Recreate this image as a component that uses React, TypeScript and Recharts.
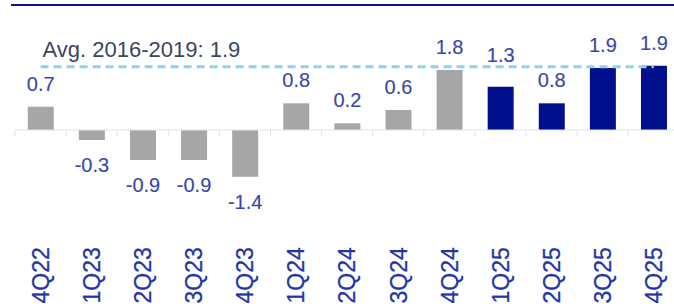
import React from 'react';
import { BarChart, Bar, XAxis, YAxis, Cell, LabelList, ReferenceLine } from 'recharts';

const quarters = ['4Q22', '1Q23', '2Q23', '3Q23', '4Q23', '1Q24', '2Q24', '3Q24', '4Q24', '1Q25', '2Q25', '3Q25', '4Q25'];
const growth = [0.7, -0.3, -0.9, -0.9, -1.4, 0.8, 0.2, 0.6, 1.8, 1.3, 0.8, 1.86, 1.93];
const avgValue = 1.9;
const avgLabel = 'Avg. 2016-2019: 1.9';
const highlightYear = '25';
const raisedLabels = ['1Q25'];

const data = quarters.map((q, i) => ({ q, v: growth[i] }));

const FONT = '"Liberation Sans", Arial, sans-serif';
const GRAY = '#a6a6a6';
const NAVY = '#000f8c';
const LABEL_BLUE = '#3a47aa';
const TICK_BLUE = '#2234a6';

const renderValueLabel = (props: any) => {
  const { x, y, width, height, value, index } = props;
  const top = Math.min(y, y + height);
  const bottom = Math.max(y, y + height);
  const cx = x + width / 2;
  const raised = raisedLabels.includes(quarters[index]) ? 9 : 0;
  const ty = value >= 0 ? top - 16 - raised : bottom + 32;
  return (
    <text
      x={cx}
      y={ty}
      textAnchor="middle"
      fill={LABEL_BLUE}
      stroke={LABEL_BLUE}
      strokeWidth={0.15}
      fontSize={20}
      fontFamily={FONT}
    >
      {Number(value).toFixed(1)}
    </text>
  );
};

const renderTick = (props: any) => {
  const { x, y, payload } = props;
  const ty = y + 63.5;
  return (
    <text
      x={x}
      y={ty}
      dy="0.36em"
      textAnchor="start"
      transform={`rotate(-90, ${x}, ${ty})`}
      fill={TICK_BLUE}
      stroke={TICK_BLUE}
      strokeWidth={0.25}
      fontSize={23}
      fontFamily={FONT}
    >
      {payload.value}
    </text>
  );
};

const renderAvgLabel = (props: any) => {
  const { viewBox } = props;
  return (
    <text x={viewBox.x + 2} y={viewBox.y - 10} fill="#3b465f" fontSize={22} fontFamily={FONT}>
      {avgLabel}
    </text>
  );
};

export default function App() {
  return (
    <div style={{ position: 'absolute', left: 0, top: 0, width: 674, height: 307, overflow: 'hidden', background: '#fff' }}>
      <div style={{ position: 'absolute', left: 11, top: 4, width: 663, height: 2, background: '#0b128f' }} />
      <BarChart
        width={700}
        height={307}
        data={data}
        margin={{ top: 30, right: 20.7, left: 15, bottom: 0 }}
        barCategoryGap="25%"
      >
        <XAxis
          dataKey="q"
          axisLine={false}
          tickLine={false}
          tickSize={0}
          tickMargin={0}
          interval={0}
          height={67}
          tick={renderTick}
        />
        <YAxis hide width={0} domain={[-3.3, 3.0]} />
        <ReferenceLine y={0} stroke="#dfe3ea" strokeWidth={1} />
        {quarters.map((q) => (
          <ReferenceLine
            key={'t' + q}
            position="start"
            segment={[{ x: q, y: 0 }, { x: q, y: -0.18 }]}
            stroke="#dfe3ea"
            strokeWidth={1}
          />
        ))}
        <Bar dataKey="v" isAnimationActive={false}>
          {data.map((d) => (
            <Cell key={d.q} fill={d.q.endsWith(highlightYear) ? NAVY : GRAY} />
          ))}
          <LabelList dataKey="v" content={renderValueLabel} />
        </Bar>
        <ReferenceLine
          position="middle"
          segment={[{ x: quarters[0], y: avgValue }, { x: quarters[quarters.length - 1], y: avgValue }]}
          stroke="#8fd0f5"
          strokeWidth={3}
          strokeDasharray="8 5"
          label={renderAvgLabel}
        />
      </BarChart>
    </div>
  );
}
